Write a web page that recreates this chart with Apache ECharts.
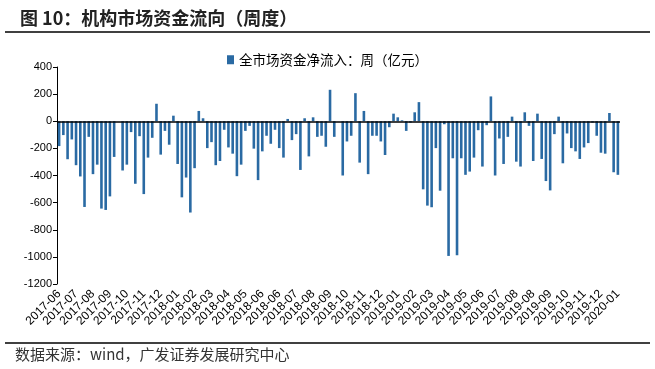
<!DOCTYPE html>
<html>
<head>
<meta charset="utf-8">
<script src="https://cdn.jsdelivr.net/npm/echarts@6/dist/echarts.min.js"></script>
<style>
html,body{margin:0;padding:0;background:#fff;}
#chart{width:655px;height:369px;}
</style>
</head>
<body>
<div id="chart"></div>
<script>
// Weekly net inflow (亿元)
var values = [
-183,-102,-280,-134,-324,-407,-632,-115,-390,-320,
-644,-654,-554,-263,0,-363,-320,-80,-461,-110,
-537,-268,-122,129,-246,-71,-173,41,-315,-561,
-415,-673,-346,76,22,-198,-154,-324,-293,-63,
-193,-239,-405,-320,-71,-34,-202,-434,-222,-107,
-166,-63,-198,-268,17,-139,-95,-359,22,-259,
29,-115,-107,-188,232,-115,0,-400,-149,-107,
207,-305,76,-390,-107,-107,-149,-249,-44,56,
29,7,-71,-10,66,141,-502,-622,-634,-198,
-512,-22,-993,-273,-988,-273,-395,-371,-268,-66,
-334,-29,183,-400,-127,-315,-115,34,-298,-334,
66,-34,-293,56,-278,-441,-510,-95,34,-310,
-90,-198,-222,-278,-193,-161,-10,-107,-232,-239,
61,-376,-395
];
// Month labels shown every 4th week
var tickLabels = ['2017-06','2017-07','2017-08','2017-09','2017-10','2017-11','2017-12',
'2018-01','2018-02','2018-03','2018-04','2018-05','2018-06','2018-06','2018-07','2018-08',
'2018-09','2018-10','2018-11','2018-12','2019-01','2019-02','2019-03','2019-04','2019-05',
'2019-06','2019-07','2019-08','2019-08','2019-09','2019-10','2019-11','2019-12','2020-01'];
var seriesName = '全市场资金净流入：周（亿元）';
var categories = values.map(function(v, i){ return 'w' + i; });

var chart = echarts.init(document.getElementById('chart'));
var cjk = '"Noto Sans CJK SC", sans-serif';
var latin = '"Liberation Sans", Arial, sans-serif';
chart.setOption({
  animation: false,
  title: {
    text: '图 10：机构市场资金流向（周度）',
    left: 15, top: 4,
    textStyle: {fontFamily: cjk, fontSize: 18, fontWeight: 'bold', color: '#222'}
  },
  legend: {
    top: 48, left: 'center',
    itemWidth: 7, itemHeight: 9, itemGap: 4,
    textStyle: {fontFamily: cjk, fontSize: 13.5, color: '#000'},
    data: [{name: seriesName, icon: 'rect'}]
  },
  graphic: [
    {type: 'line', shape: {x1: 5, y1: 32, x2: 650, y2: 32}, style: {stroke: '#000', lineWidth: 1.5}},
    {type: 'line', shape: {x1: 5, y1: 343, x2: 650, y2: 343}, style: {stroke: '#000', lineWidth: 1.5}},
    {type: 'text', left: 15, top: 347, style: {text: '数据来源：wind，广发证券发展研究中心', font: '15px "Noto Sans CJK SC", sans-serif', fill: '#333'}}
  ],
  grid: {left: 57, right: 35, top: 67, bottom: 85, containLabel: false},
  xAxis: {
    type: 'category',
    data: categories,
    axisLine: {show: false, onZero: false},
    axisTick: {show: false},
    axisLabel: {
      interval: 3, rotate: 45, margin: 8,
      fontFamily: latin, fontSize: 12, color: '#000',
      formatter: function(v, i){ return tickLabels[Math.floor(i / 4)] || ''; }
    }
  },
  yAxis: {
    type: 'value', min: -1200, max: 400, interval: 200,
    axisLine: {show: true, lineStyle: {color: '#000', width: 1}},
    axisTick: {show: true, length: 4, lineStyle: {color: '#000'}},
    splitLine: {show: false},
    axisLabel: {fontFamily: latin, fontSize: 11, color: '#000', margin: 5,
      formatter: function(v){ return String(v); }}
  },
  series: [{
    name: seriesName,
    type: 'bar',
    data: values,
    barWidth: 2.6,
    itemStyle: {color: '#2a6aa3'},
    markLine: {
      silent: true, symbol: 'none', label: {show: false},
      lineStyle: {color: '#000', width: 1.5, type: 'solid'},
      data: [{yAxis: 0}]
    }
  }]
});
</script>
</body>
</html>
